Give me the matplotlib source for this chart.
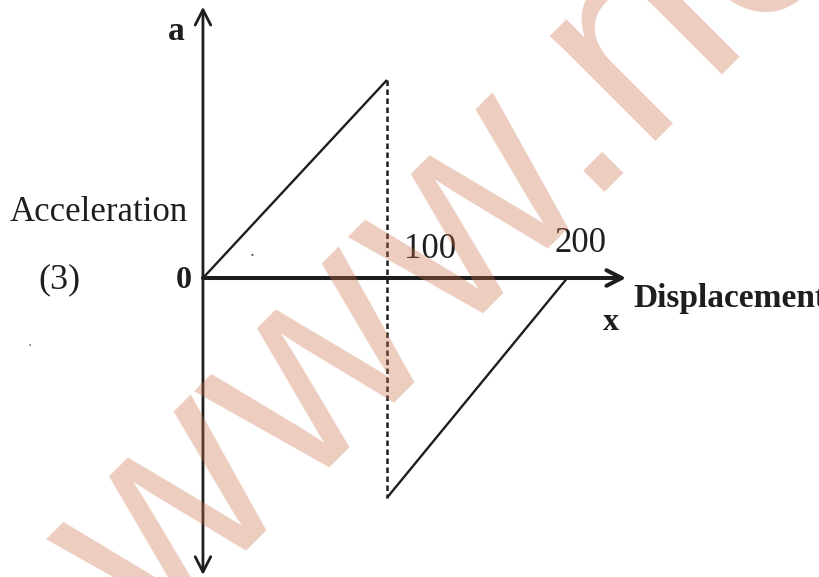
import matplotlib
matplotlib.use("Agg")
import matplotlib.pyplot as plt
import numpy as np

# ---- data ----
disp_rise = [0, 100]
acc_rise = [0, 1.0]
disp_fall = [100, 198]
acc_fall = [-1.11, 0]
dash_x = [100, 100]
dash_a = [1.0, -1.11]
tick_values = [100, 200]
tick_labels = ["100", "200"]

W, H = 819, 577
fig = plt.figure(figsize=(W / 100, H / 100), dpi=100)
ax = fig.add_axes([0, 0, 1, 1])
ax.set_xlim(-110.3, 334.8)
ax.set_ylim(-1.510, 1.404)
ax.axis("off")

def fx(px):
    return px / W

def fy(py):
    return 1 - py / H

ink = "#1e1e1e"
serif = "Liberation Serif"

# axes with arrows
arrow_kw = dict(arrowstyle="->,head_length=0.55,head_width=0.28", color=ink,
                shrinkA=0, shrinkB=0, mutation_scale=20)
ax.annotate("", xy=(0, 1.37), xytext=(0, 0), arrowprops=dict(lw=2.0, **arrow_kw))
ax.annotate("", xy=(0, -1.50), xytext=(0, 0), arrowprops=dict(lw=2.0, **arrow_kw))
ax.annotate("", xy=(230, 0), xytext=(0, 0), arrowprops=dict(lw=2.9, **arrow_kw))

# graph
ax.plot(disp_rise, acc_rise, color=ink, lw=1.7, solid_capstyle="butt")
ax.plot(disp_fall, acc_fall, color=ink, lw=1.7, solid_capstyle="butt")
ax.plot(dash_x, dash_a, color=ink, lw=1.8, dashes=(2.2, 1.4))

# tick labels
tick_offsets = [(430, 250), (580, 243)]
for (tx, ty), lab in zip(tick_offsets, tick_labels):
    fig.text(fx(tx), fy(ty), lab, family=serif, fontsize=25, ha="center", va="center",
             color=ink)

fig.text(fx(176), fy(31), "a", family=serif, fontsize=24, weight="bold",
         ha="center", va="center", color=ink)
fig.text(fx(10), fy(221), "Acceleration", family=serif, fontsize=25,
         ha="left", va="baseline", color=ink)
fig.text(fx(59), fy(280), "(3)", family=serif, fontsize=26, ha="center",
         va="center", color=ink)
fig.text(fx(184), fy(281), "0", family=serif, fontsize=23, weight="bold",
         ha="center", va="center", color=ink)
fig.text(fx(633), fy(307), "Displacement", family=serif, fontsize=24,
         weight="bold", ha="left", va="baseline", color=ink)
fig.text(fx(611), fy(323), "x", family=serif, fontsize=23, weight="bold",
         ha="center", va="center", color=ink)
fig.text(fx(252), fy(252), ".", family=serif, fontsize=14, ha="center",
         va="center", color="#555555")
fig.text(fx(30), fy(342), ".", family=serif, fontsize=12, ha="center",
         va="center", color="#777777")

# watermark: rotated text "www.ncert", in pieces so the w's can be spaced
rot = 45
ang = np.deg2rad(rot)
em = 282.0
track = [6.0, 14.0]  # extra spacing before the 2nd and 3rd pieces (px)
base_dir = np.array([np.cos(ang), -np.sin(ang)])
up_dir = np.array([-np.sin(ang), -np.cos(ang)])
dot_c = np.array([609.0, 168.0])
dot_origin = dot_c - 0.139 * em * base_dir - 0.05 * em * up_dir
wm_pieces = ["w", "w", "w.ncert"]
w_adv = 0.722
wm = dict(family="Liberation Sans", fontsize=em * 72 / 100,
          rotation=rot, rotation_mode="anchor", ha="left", va="baseline",
          color="#C86E46", alpha=0.35, zorder=10)
pos = dot_origin - (3 * w_adv * em + 12.0) * base_dir
for i, piece in enumerate(wm_pieces):
    if i > 0:
        pos = pos + (w_adv * em + track[i - 1]) * base_dir
    p = pos + 0.006 * em * base_dir
    fig.text(fx(p[0]), fy(p[1]), piece, **wm)

fig.savefig("out.png", dpi=100)
